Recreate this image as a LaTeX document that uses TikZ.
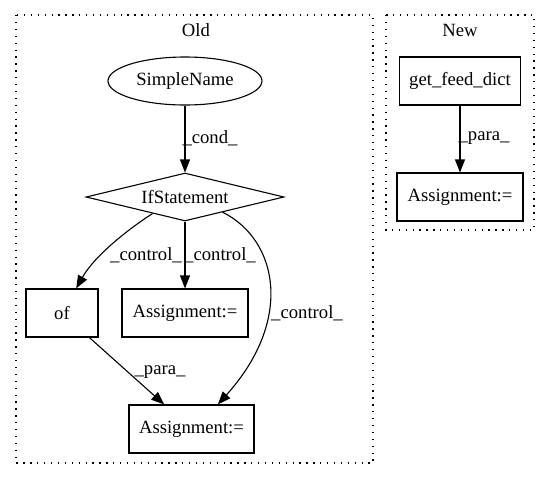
\documentclass[tikz,border=0pt]{standalone}
\usepackage{fontspec}
\setmainfont{Liberation Serif}
\usetikzlibrary{shapes.geometric,arrows.meta}
\begin{document}
\begin{tikzpicture}[x=1pt,y=-1pt,
  every node/.style={font=\fontsize{18.67}{21}\selectfont},
  box/.style={draw,line width=1.1pt,rectangle,minimum height=48pt,inner sep=0pt},
  oval/.style={draw,line width=1.1pt,ellipse,minimum width=154pt,minimum height=48pt,inner sep=0pt},
  dia/.style={draw,line width=1.1pt,diamond,shape aspect=4,minimum width=198pt,minimum height=48pt,inner sep=0pt},
  cluster/.style={draw,line width=1.1pt,dash pattern=on 1.3pt off 5.6pt},
  edge/.style={draw,line width=1.1pt,-{Triangle[length=13pt,width=10pt]}},
  lbl/.style={inner sep=1pt}]
\useasboundingbox (0,0) rectangle (549,480);
% clusters
\draw[cluster] (16,15) rectangle (373,463);
\draw[cluster] (386,15) rectangle (534,230);
\node (oldt) at (196,30) {Old};
\node (newt) at (460,30) {New};
% nodes
\node[oval] (sn) at (185,81) {SimpleName};
\node[dia] (if) at (185,197) {IfStatement};
\node[box,minimum width=72pt] (of) at (62,313) {of};
\node[box,minimum width=126pt] (a2) at (185,313) {Assignment:=};
\node[box,minimum width=125pt] (a3) at (191.5,429) {Assignment:=};
\node[box,minimum width=121pt] (gfd) at (460,81) {get\_feed\_dict};
\node[box,minimum width=126pt] (a4) at (460,197) {Assignment:=};
% edges
\draw[edge] (sn) -- (if);
\draw[edge] (if.207) .. controls (130,228) and (95,255) .. (of.60);
\draw[edge] (if) -- (a2);
\draw[edge] (if.338) .. controls (278,240) and (294,320) .. (a3.43);
\draw[edge] (of) -- (a3);
\draw[edge] (gfd) -- (a4);
% labels
\node[lbl] (l1) at (210,138) {\_cond\_};
\node[lbl] (l2) at (146,255) {\_control\_};
\node[lbl] (l3) at (220,255) {\_control\_};
\node[lbl] (l4) at (307,313) {\_control\_};
\node[lbl] (l5) at (160,372) {\_para\_};
\node[lbl] (l6) at (484,138) {\_para\_};
\end{tikzpicture}
\end{document}
